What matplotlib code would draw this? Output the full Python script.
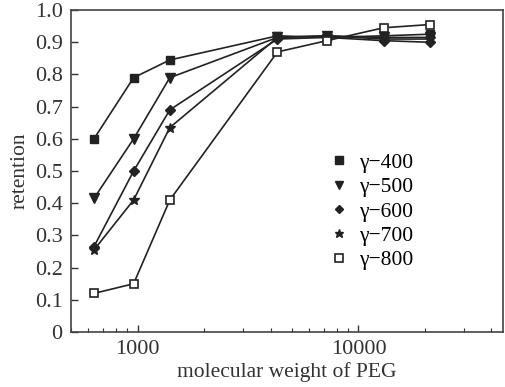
import numpy as np
import matplotlib
matplotlib.use("Agg")
import matplotlib.pyplot as plt
from matplotlib.ticker import FixedLocator, FuncFormatter, LogLocator, NullFormatter

plt.rcParams['font.family'] = ['Liberation Serif', 'DejaVu Serif']

# molecular weight of PEG
peg_mw = [635, 960, 1400, 4300, 7200, 13000, 21000]

# retention per membrane series
r400 = [0.60, 0.79, 0.845, 0.92, 0.915, 0.92, 0.925]
r500 = [0.415, 0.60, 0.79, 0.915, 0.92, 0.915, 0.915]
r600 = [0.265, 0.50, 0.69, 0.91, 0.915, 0.905, 0.90]
r700 = [0.255, 0.41, 0.635, 0.915, 0.92, 0.91, 0.91]
r800 = [0.12, 0.15, 0.41, 0.87, 0.905, 0.945, 0.955]

labels = ["\u03b3\u2212400", "\u03b3\u2212500", "\u03b3\u2212600", "\u03b3\u2212700", "\u03b3\u2212800"]

fig = plt.figure(figsize=(5.05, 3.87), dpi=100)
ax = fig.add_axes([0.1406, 0.142, 0.855, 0.832])

styles = [
    dict(marker='s', ms=6, mfc='#222222', mec='#222222'),
    dict(marker='v', ms=6.5, mfc='#222222', mec='#222222'),
    dict(marker='D', ms=5, mfc='#222222', mec='#222222'),
    dict(marker='*', ms=7.5, mfc='#222222', mec='#222222'),
    dict(marker='s', ms=6, mfc='white', mec='#222222', mew=1.2),
]
series = [r400, r500, r600, r700, r800]

for vals, st in zip(series, styles):
    ax.plot(peg_mw, vals, color='#222222', lw=1.2, **st)

# legend: markers only
handles = []
for lab, st in zip(labels, styles):
    h, = ax.plot([], [], ls='none', **st)
    handles.append(h)
leg = ax.legend(handles, labels, loc='upper left', bbox_to_anchor=(0.565, 0.59),
                frameon=False, fontsize=15.5, handletextpad=0.35, labelspacing=0.2,
                handlelength=1.2, markerscale=0.85, borderpad=0)

ax.set_xscale('log')
ax.set_xlim(500, 45000)
ax.set_ylim(0, 1.0)
ax.xaxis.set_major_locator(FixedLocator([1000, 10000]))
ax.xaxis.set_major_formatter(FuncFormatter(lambda v, p: "%d" % v))
ax.xaxis.set_minor_locator(LogLocator(base=10, subs=np.arange(2, 10)))
ax.xaxis.set_minor_formatter(NullFormatter())
ax.yaxis.set_major_locator(FixedLocator(np.arange(0, 1.01, 0.1)))
ax.yaxis.set_major_formatter(FuncFormatter(lambda v, p: "0" if abs(v) < 1e-9 else "%.1f" % v))

ax.tick_params(axis='both', which='both', direction='in', labelsize=16, color='#333333',
               labelcolor='#333333')
ax.tick_params(axis='both', which='major', length=5, width=1)
ax.tick_params(axis='x', which='major', pad=6)
ax.tick_params(axis='y', which='major', pad=6)
ax.tick_params(axis='x', which='minor', length=3, width=0.8)
for sp in ax.spines.values():
    sp.set_color('#444444')
    sp.set_linewidth(1.2)

ax.set_xlabel("molecular weight of PEG", fontsize=15.5, color='#333333', labelpad=2)
ax.set_ylabel("retention", fontsize=15.5, color='#333333', labelpad=4)

fig.savefig("out.png", dpi=100)
